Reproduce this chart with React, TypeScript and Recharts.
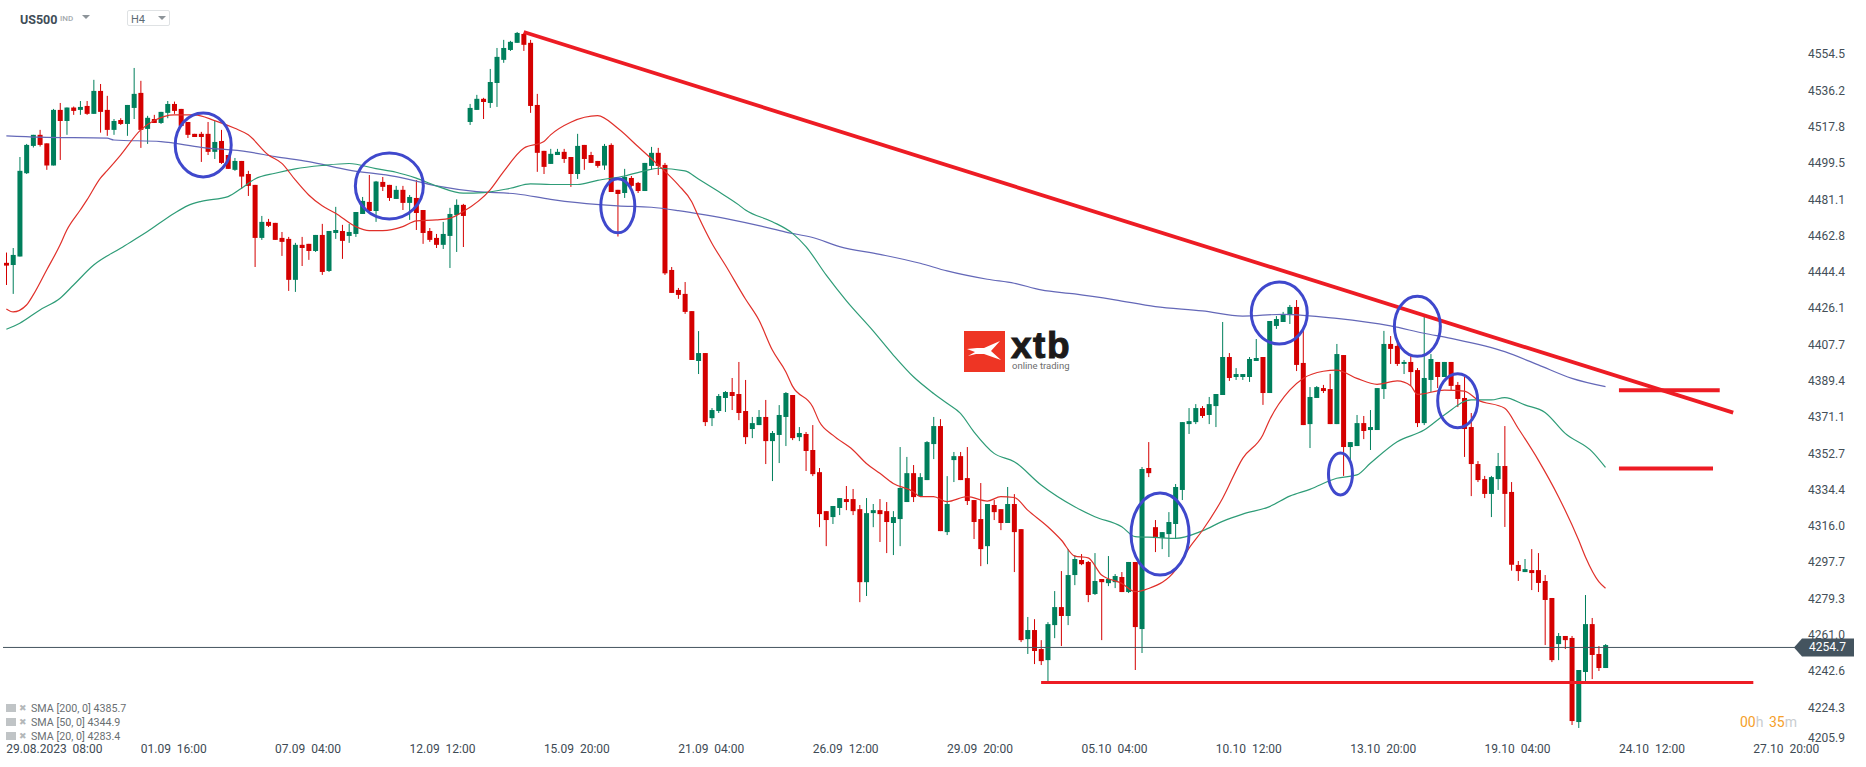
import {
  ComposedChart, Bar, Line, XAxis, YAxis, ReferenceLine, ReferenceDot,
} from 'recharts'

const GREEN = '#007f5c'
const RED = '#d40000'
const LINE_RED = '#ed1c24'
const CIRCLE = '#3f48cc'
const FONT = 'Roboto, sans-serif'

const SLOTS = 267
const CURRENT = 4254.7

const PRICE_TICKS = [
  4554.5, 4536.2, 4517.8, 4499.5, 4481.1, 4462.8, 4444.4, 4426.1, 4407.7, 4389.4,
  4371.1, 4352.7, 4334.4, 4316.0, 4297.7, 4279.3, 4261.0, 4242.6, 4224.3, 4205.9,
]

// one label every 20 candles
const TIME_LABELS = [
  '29.08.2023  08:00', '01.09  16:00', '07.09  04:00', '12.09  12:00', '15.09  20:00',
  '21.09  04:00', '26.09  12:00', '29.09  20:00', '05.10  04:00', '10.10  12:00',
  '13.10  20:00', '19.10  04:00', '24.10  12:00', '27.10  20:00',
]

const OPEN = [
  4449.1,4448.0,4452.3,4494.4,4508.2,4513.8,4509.5,4498.3,4526.4,4520.8,
  4527.6,4526.4,4528.4,4524.4,4536.0,4526.4,4516.3,4521.3,4519.3,4527.4,
  4535.0,4516.8,4521.8,4519.8,4524.9,4529.4,4526.9,4520.3,4514.3,4514.3,
  4514.3,4505.2,4510.7,4503.6,4496.1,4500.6,4494.0,4488.5,4461.7,4469.8,
  4469.3,4461.7,4461.2,4440.5,4458.2,4458.7,4455.1,4463.2,4445.0,4464.2,
  4465.2,4462.7,4463.7,4473.8,4479.9,4475.3,4490.0,4488.5,4481.4,4486.0,
  4479.4,4481.9,4475.8,4465.2,4461.7,4458.2,4462.7,4473.3,4478.4,4520.3,
  4526.4,4532.0,4529.9,4540.0,4551.7,4556.7,4560.3,4564.8,4560.3,4528.9,
  4505.7,4499.1,4503.6,4505.2,4502.6,4494.0,4508.7,4503.6,4500.6,4498.3,
  4508.7,4486.0,4484.4,4492.0,4489.5,4485.4,4498.1,4504.7,4498.6,4445.5,
  4435.4,4433.4,4424.7,4399.5,4403.5,4370.6,4374.2,4380.8,4383.8,4382.8,
  4374.2,4365.1,4367.1,4371.2,4359.0,4362.1,4371.2,4382.3,4361.0,4362.6,
  4354.5,4343.3,4323.6,4320.6,4325.2,4329.7,4329.7,4324.6,4287.7,4322.6,
  4324.1,4323.6,4317.6,4319.6,4328.2,4342.8,4331.2,4339.3,4357.5,4366.6,
  4313.0,4349.4,4351.4,4340.3,4329.2,4319.6,4305.9,4326.7,4324.6,4317.6,
  4327.2,4314.5,4258.9,4263.5,4253.9,4248.3,4266.0,4275.1,4270.6,4291.3,
  4298.9,4297.9,4281.7,4289.3,4287.2,4287.7,4290.3,4282.7,4297.9,4264.0,
  4345.4,4315.5,4310.0,4312.0,4317.1,4334.3,4367.6,4368.6,4375.7,4372.2,
  4376.7,4382.3,4401.5,4391.4,4391.4,4391.4,4399.5,4401.5,4383.3,4417.2,
  4419.2,4422.7,4426.8,4398.5,4367.6,4380.8,4385.8,4385.3,4367.6,4402.5,
  4356.0,4356.5,4368.1,4364.6,4364.6,4385.3,4408.1,4407.1,4398.0,4399.0,
  4394.9,4368.1,4389.9,4399.0,4391.4,4399.0,4387.4,4380.8,4366.1,4347.4,
  4339.8,4332.3,4339.8,4346.4,4333.3,4296.4,4292.8,4293.8,4293.8,4288.3,
  4279.7,4256.4,4260.5,4259.5,4217.0,4242.3,4266.5,4251.4,4244.3,
]

const CLOSE = [
  4447.7,4453.1,4495.6,4508.7,4513.8,4508.7,4498.3,4526.4,4520.8,4527.6,
  4525.9,4527.9,4524.4,4536.0,4525.4,4516.3,4520.8,4519.3,4528.9,4534.5,
  4516.3,4522.4,4519.8,4525.4,4529.4,4525.9,4518.3,4513.8,4512.7,4512.7,
  4505.2,4510.2,4499.6,4496.6,4500.6,4492.7,4488.0,4461.7,4469.8,4467.8,
  4460.7,4459.7,4440.5,4458.2,4456.6,4455.1,4463.2,4444.5,4465.2,4465.7,
  4460.2,4464.7,4474.8,4480.4,4475.3,4490.2,4487.5,4481.9,4486.0,4479.4,
  4482.4,4474.3,4464.2,4460.7,4458.2,4463.7,4473.8,4478.4,4472.8,4527.4,
  4532.0,4530.4,4540.5,4553.2,4557.7,4560.8,4565.3,4559.3,4528.4,4504.7,
  4497.6,4504.2,4505.2,4501.6,4494.0,4508.2,4501.6,4499.6,4498.1,4508.2,
  4484.9,4483.9,4492.5,4488.0,4485.4,4499.6,4504.7,4498.1,4443.8,4433.9,
  4432.9,4424.3,4400.0,4403.5,4368.6,4374.7,4381.8,4383.8,4381.8,4373.2,
  4361.0,4368.1,4371.2,4359.0,4363.1,4372.2,4383.3,4360.5,4363.1,4354.0,
  4342.3,4322.1,4319.1,4326.2,4330.2,4328.2,4323.6,4287.7,4322.6,4324.1,
  4322.1,4318.1,4320.6,4335.3,4342.8,4330.7,4340.8,4358.5,4366.6,4313.5,
  4327.2,4351.4,4339.3,4328.7,4318.1,4304.4,4327.2,4323.1,4317.6,4327.2,
  4313.0,4258.4,4263.5,4252.9,4247.8,4266.5,4275.1,4270.6,4291.3,4299.4,
  4296.8,4281.2,4288.3,4287.7,4289.3,4290.8,4282.7,4297.9,4265.0,4344.9,
  4342.8,4310.0,4313.0,4318.1,4335.8,4368.6,4369.1,4375.7,4371.7,4377.7,
  4382.8,4401.5,4390.9,4392.9,4392.9,4400.5,4401.0,4383.3,4419.7,4420.7,
  4423.2,4426.8,4397.5,4367.1,4381.3,4386.3,4384.3,4367.6,4403.0,4356.0,
  4358.5,4368.1,4364.1,4366.1,4385.8,4408.1,4405.6,4398.0,4399.0,4393.9,
  4368.1,4390.9,4400.5,4391.4,4399.0,4386.9,4380.3,4365.1,4347.4,4339.3,
  4332.3,4340.8,4346.4,4332.3,4296.5,4293.3,4294.3,4292.3,4287.3,4278.7,
  4248.3,4260.5,4258.4,4217.5,4243.3,4266.5,4250.9,4244.3,4255.9,
]

const HIGH = [
  4454.3,4456.6,4502.6,4509.2,4513.8,4516.3,4509.5,4526.9,4529.9,4527.6,
  4528.1,4530.9,4530.9,4541.6,4539.5,4533.5,4521.8,4522.2,4528.9,4547.6,
  4541.1,4523.4,4523.9,4525.4,4530.9,4530.6,4526.9,4520.3,4514.3,4515.3,
  4520.3,4520.8,4516.3,4503.6,4502.1,4500.6,4495.6,4488.5,4472.8,4471.3,
  4469.3,4464.7,4462.2,4459.2,4462.2,4458.7,4463.2,4468.8,4465.2,4477.4,
  4468.3,4468.8,4474.8,4482.4,4493.5,4490.5,4492.5,4488.5,4488.0,4488.0,
  4483.4,4491.0,4475.8,4466.7,4463.7,4469.8,4476.9,4481.2,4478.9,4529.4,
  4534.0,4532.5,4547.1,4557.7,4561.8,4561.3,4565.8,4565.2,4561.8,4534.5,
  4505.7,4506.7,4506.7,4506.7,4502.6,4514.3,4508.7,4505.2,4500.6,4509.2,
  4509.5,4486.0,4496.6,4493.0,4490.0,4499.6,4507.7,4507.2,4499.6,4447.0,
  4436.4,4439.4,4424.7,4414.6,4403.5,4375.7,4382.8,4384.3,4390.9,4399.0,
  4389.9,4371.2,4374.7,4379.8,4364.1,4377.2,4383.8,4382.3,4366.1,4363.6,
  4367.1,4345.4,4323.6,4326.2,4330.2,4336.3,4334.8,4326.7,4330.2,4327.2,
  4329.7,4328.2,4323.6,4356.0,4351.0,4346.9,4342.8,4359.0,4371.2,4370.1,
  4341.3,4353.5,4353.5,4356.0,4329.2,4337.8,4327.2,4329.2,4324.6,4335.8,
  4332.2,4314.5,4270.1,4269.0,4258.4,4267.5,4283.2,4293.3,4304.4,4301.4,
  4301.9,4298.4,4302.4,4289.3,4300.9,4291.8,4292.8,4297.9,4297.9,4345.9,
  4358.5,4319.1,4313.0,4323.1,4337.3,4368.6,4375.7,4377.7,4376.7,4381.3,
  4382.8,4419.2,4403.5,4395.9,4392.9,4401.5,4410.6,4401.5,4419.7,4422.2,
  4424.3,4427.8,4430.3,4415.2,4386.3,4386.8,4387.4,4393.0,4408.1,4402.5,
  4358.5,4372.2,4371.7,4374.7,4385.8,4414.7,4412.1,4410.1,4400.0,4402.0,
  4395.9,4422.2,4403.0,4399.0,4399.0,4399.0,4388.9,4391.4,4373.2,4348.9,
  4341.4,4341.4,4353.0,4366.6,4338.3,4298.4,4299.4,4304.4,4302.4,4291.3,
  4279.7,4262.0,4260.5,4260.5,4243.3,4281.2,4269.6,4255.4,4256.4,
]

const LOW = [
  4437.9,4433.4,4452.3,4494.0,4507.4,4507.9,4496.1,4498.3,4501.1,4513.8,
  4523.9,4523.9,4523.9,4524.4,4514.9,4513.3,4513.8,4518.8,4513.3,4521.8,
  4507.2,4509.2,4519.8,4519.3,4522.2,4524.4,4518.3,4512.2,4512.7,4500.1,
  4503.6,4501.6,4499.1,4496.6,4495.6,4486.5,4482.9,4447.0,4460.7,4467.2,
  4460.7,4452.6,4434.9,4434.4,4447.5,4450.6,4454.6,4443.0,4444.5,4461.2,
  4451.1,4459.2,4462.2,4473.8,4475.3,4469.8,4485.4,4480.4,4481.4,4475.8,
  4470.8,4465.7,4458.7,4459.7,4456.6,4456.1,4446.5,4454.6,4457.1,4518.8,
  4526.4,4521.8,4527.4,4527.9,4550.2,4556.2,4560.3,4556.2,4524.9,4495.1,
  4494.0,4499.1,4503.6,4499.6,4487.5,4491.5,4496.1,4499.6,4497.2,4496.1,
  4484.9,4462.4,4481.9,4487.5,4484.4,4485.4,4496.1,4493.5,4443.0,4433.9,
  4430.9,4423.3,4400.0,4392.9,4366.6,4366.6,4373.2,4373.7,4374.7,4369.6,
  4357.5,4360.5,4367.1,4347.4,4338.8,4347.9,4356.5,4359.5,4359.0,4343.9,
  4341.3,4315.5,4305.9,4317.1,4321.6,4324.1,4321.6,4277.6,4280.7,4315.5,
  4308.0,4302.4,4301.4,4305.9,4328.2,4328.2,4331.2,4339.3,4349.9,4313.5,
  4311.5,4338.3,4339.3,4326.7,4309.5,4295.8,4296.8,4319.1,4314.0,4317.6,
  4292.8,4257.4,4251.4,4246.3,4245.8,4237.7,4259.4,4255.4,4266.0,4286.2,
  4296.3,4277.6,4281.2,4258.4,4285.7,4284.7,4282.7,4282.2,4243.3,4251.9,
  4340.8,4302.9,4304.4,4300.4,4309.5,4329.2,4362.6,4367.6,4370.7,4367.6,
  4366.1,4382.3,4389.4,4389.9,4389.9,4388.9,4399.5,4377.3,4383.3,4415.7,
  4419.2,4418.2,4394.4,4367.1,4355.5,4380.8,4383.3,4367.6,4367.6,4341.4,
  4349.4,4356.5,4360.0,4354.5,4364.6,4380.3,4398.0,4397.0,4392.9,4386.9,
  4366.1,4367.1,4383.8,4385.8,4391.4,4384.8,4376.2,4351.0,4331.2,4338.3,
  4330.2,4320.6,4334.3,4315.6,4293.5,4288.3,4292.8,4283.7,4282.7,4255.9,
  4247.3,4248.3,4253.9,4215.5,4214.0,4237.7,4238.7,4242.8,4244.3,
]

// [candle index, value]
const SMA20: [number, number][] = [
  [0,4425.8],[1,4424.3],[3,4427.8],[4,4432.9],[6,4445.5],[8,4458.2],[9,4465.7],[11,4475.8],[12,4480.9],
  [14,4491.9],[15,4495.7],[17,4503.6],[20,4516.3],[22,4521],[25,4523.9],[28,4523.9],[31,4521],[34,4517.1],
  [36,4513.8],[39,4503.6],[41,4499.4],[43,4491],[45,4483.4],[47,4477.9],[49,4474.2],[52,4467.4],[54,4465.4],
  [56,4465.4],[59,4467.4],[61,4470.3],[64,4470.8],[66,4471.6],[68,4475],[72,4486],[74,4495.2],[77,4507],
  [80,4510.4],[81,4513.8],[84,4520.2],[88,4523.5],[91,4517.1],[94,4507.9],[97,4498.6],[100,4488.5],[102,4480],
  [103,4472.5],[105,4459],[107,4448],[110,4430.8],[112,4420.2],[114,4405],[116,4394.1],[117,4386.8],[120,4376.4],
  [121,4368.8],[123,4362],[126,4354.5],[128,4347.7],[130,4342.7],[132,4337.6],[135,4333.4],[136,4330.9],[138,4330.9],
  [140,4328.4],[143,4330.9],[146,4328.7],[148,4330.9],[150,4330.5],[152,4324.1],[155,4315.7],[157,4309],[159,4300.9],
  [161,4300],[163,4291.3],[166,4287.1],[168,4282.9],[170,4284.5],[174,4293.8],[176,4304.8],[178,4313.8],[181,4330],
  [184,4350.3],[187,4362.1],[188,4369.7],[191,4384.8],[193,4390.7],[196,4394.3],[198,4394.9],[201,4390.7],[204,4387.7],
  [207,4389.4],[209,4387],[210,4382.6],[214,4384.8],[217,4384.3],[219,4379.8],[223,4375.6],[225,4365.5],[228,4349.4],
  [231,4330.9],[234,4309],[235,4300.6],[237,4288],[238,4284.6],
]

const SMA50: [number, number][] = [
  [0,4415.5],[2,4418.6],[5,4425.3],[8,4431.2],[10,4437.9],[13,4448],[17,4456.5],[21,4464.9],[25,4474.2],[27,4478],
  [29,4480.2],[33,4482.6],[35,4486.8],[37,4491.5],[40,4494.4],[43,4496.6],[47,4498.3],[51,4499.3],[55,4496.7],[58,4494.9],
  [61,4491.9],[64,4488],[68,4484.3],[71,4484.6],[75,4486.8],[78,4489],[81,4488.7],[85,4488.7],[88,4490.8],[92,4493],
  [95,4495.6],[97,4496.9],[101,4495.6],[103,4491.5],[106,4485.1],[109,4478.4],[110,4475.8],[114,4469.9],[117,4464],[119,4457.3],
  [122,4443],[125,4430],[129,4414.7],[132,4402.5],[135,4391.5],[138,4383.1],[140,4378.1],[142,4373],[144,4363.7],[147,4352.8],
  [150,4348.6],[154,4336.8],[159,4325.8],[162,4320.8],[166,4315.7],[168,4310.7],[171,4310.3],[174,4309.8],[178,4313.6],[181,4318.4],
  [184,4322.1],[188,4325.9],[191,4331.2],[194,4334.6],[198,4340.2],[201,4341.9],[203,4347.8],[207,4358.7],[211,4364.6],[214,4372.2],
  [218,4379.8],[221,4379.8],[223,4381],[226,4377.3],[229,4373.5],[232,4362.9],[236,4353.7],[238,4345.7],
]

const SMA200: [number, number][] = [
  [0,4513.3],[5,4512.6],[15,4512.1],[16,4511.2],[23,4510.4],[29,4507.5],[36,4505.2],[40,4502.8],[45,4500.3],[51,4496],
  [58,4492.7],[64,4488],[70,4485.1],[76,4483.9],[81,4481.2],[85,4479.5],[91,4477.9],[96,4477.2],[100,4475.5],[104,4473.3],
  [108,4470.8],[112,4467.9],[116,4464.6],[120,4461.9],[124,4457.3],[130,4453.4],[136,4448.9],[140,4445],[146,4440.8],[150,4438.8],
  [154,4435.4],[159,4433.4],[165,4430.4],[171,4427],[178,4424.8],[184,4422.2],[190,4423.1],[198,4421],[206,4417.2],[211,4413.5],
  [215,4410.9],[223,4404.2],[228,4397.5],[233,4390.7],[238,4386.5],
]

const TREND_START = { slot: 77, price: 4565.8 }
const TREND_END = { slot: 257, price: 4373.4 }
const SUPPORT = { from: 154, to: 260, price: 4237 }
const LEVELS = [
  { from: 240, to: 255, price: 4384.7 },
  { from: 240, to: 254, price: 4345.2 },
]

// rings on the chart: where they sit (slot, price), radii and a small nudge
const RINGS = [
  { slot: 29, price: 4508.7, rx: 28, ry: 32, dx: 2 },
  { slot: 57, price: 4488, rx: 34, ry: 33, dx: 0 },
  { slot: 91, price: 4477.9, rx: 17, ry: 27, dx: 0 },
  { slot: 172, price: 4312, rx: 29, ry: 41, dx: -2 },
  { slot: 189, price: 4423.7, rx: 28, ry: 31, dx: 3 },
  { slot: 199, price: 4342.4, rx: 12, ry: 21, dx: -3 },
  { slot: 210, price: 4417, rx: 23, ry: 30, dx: 0 },
  { slot: 216, price: 4379.4, rx: 20, ry: 27, dx: 0 },
]

const LEGEND = ['SMA [200, 0] 4385.7', 'SMA [50, 0] 4344.9', 'SMA [20, 0] 4283.4']

const knots = (list: [number, number][]) => new Map(list.map(([i, v]) => [i, v]))
const sma20 = knots(SMA20)
const sma50 = knots(SMA50)
const sma200 = knots(SMA200)

const rows = Array.from({ length: SLOTS }, (_, i) => ({
  slot: i,
  range: i < OPEN.length ? [LOW[i], HIGH[i]] : undefined,
  open: OPEN[i],
  close: CLOSE[i],
  high: HIGH[i],
  low: LOW[i],
  sma20: sma20.get(i) ?? null,
  sma50: sma50.get(i) ?? null,
  sma200: sma200.get(i) ?? null,
}))

function Candle(props: any) {
  const { x, y, width, height, payload } = props
  if (!payload || payload.open === undefined) return null
  const color = payload.close >= payload.open ? GREEN : RED
  const perPoint = height / (payload.high - payload.low || 1)
  const top = y + (payload.high - Math.max(payload.open, payload.close)) * perPoint
  const bodyHeight = Math.max(Math.abs(payload.open - payload.close) * perPoint, 1.5)
  const mid = x + width / 2
  return (
    <g>
      <line x1={mid} x2={mid} y1={y} y2={y + height} stroke={color} strokeWidth={1} />
      <rect x={mid - 2.5} y={top} width={5} height={bodyHeight} fill={color} />
    </g>
  )
}

function PriceTick({ x, y, payload }: any) {
  // the lowest label is pushed up so it stays above the time axis
  const shift = payload.value === 4205.9 ? -6 : 0
  return (
    <text x={x + 3} y={y + shift + 4} fontFamily={FONT} fontSize={12} fill="#444f58">
      {payload.value.toFixed(1)}
    </text>
  )
}

function TimeTick({ x, y, payload }: any) {
  return (
    <text x={x} y={y + 1} fontFamily={FONT} fontSize={12} fill="#3d4a54" style={{ whiteSpace: 'pre' }}>
      {TIME_LABELS[payload.value / 20]}
    </text>
  )
}

function PriceTag({ viewBox }: any) {
  const right = viewBox.x + viewBox.width
  const y = viewBox.y
  return (
    <g>
      <polygon
        points={`${right - 3},${y} ${right + 5},${y - 9} ${right + 57},${y - 9} ${right + 57},${y + 9} ${right + 5},${y + 9}`}
        fill="#44545f"
      />
      <text x={right + 12} y={y + 4} fontFamily={FONT} fontSize={12} fill="#fff">{CURRENT}</text>
    </g>
  )
}

function Ring({ cx, cy, rx, ry }: any) {
  return <ellipse cx={cx} cy={cy} rx={rx} ry={ry} fill="none" stroke={CIRCLE} strokeWidth={3} />
}

function Arrow({ left, top }: { left: number; top: number }) {
  return (
    <div style={{
      position: 'absolute', left, top, width: 0, height: 0,
      borderLeft: '4px solid transparent', borderRight: '4px solid transparent', borderTop: '4px solid #8d9499',
    }} />
  )
}

function Header() {
  return (
    <>
      <div style={{ position: 'absolute', left: 20, top: 12, fontSize: 12.5, fontWeight: 700, color: '#3f4d57' }}>US500</div>
      <div style={{ position: 'absolute', left: 60, top: 14, fontSize: 8, fontWeight: 500, color: '#a3a9ad' }}>IND</div>
      <Arrow left={82} top={15} />
      <div style={{ position: 'absolute', left: 127, top: 10, width: 41, height: 14, border: '1px solid #dfe2e4', borderRadius: 2 }} />
      <div style={{ position: 'absolute', left: 131, top: 13, fontSize: 11, color: '#5d6b75' }}>H4</div>
      <Arrow left={158} top={16} />
    </>
  )
}

function Logo() {
  return (
    <>
      <svg style={{ position: 'absolute', left: 964, top: 331 }} width={41} height={41} viewBox="0 0 41 41">
        <rect width={41} height={41} fill="#ee3524" />
        <path d="M3 18 L13 17 L20 17 L36 10 L27 20 L37 29 L20 23 L12 23 L4 25 L11 21 Z" fill="#fff" />
      </svg>
      <div style={{
        position: 'absolute', left: 1011, top: 332, height: 27, lineHeight: '27px', fontFamily: 'Liberation Sans, sans-serif',
        fontSize: 37, fontWeight: 700, color: '#1c1a1a', WebkitTextStroke: '1px #1c1a1a', letterSpacing: 1.5,
      }}>
        xtb
      </div>
      <div style={{ position: 'absolute', left: 1012, top: 360, fontSize: 9.5, lineHeight: '12px', color: '#6d6d6d' }}>online trading</div>
    </>
  )
}

function Legend() {
  return (
    <>
      {LEGEND.map((text, i) => (
        <div key={text} style={{ position: 'absolute', left: 6, top: 702 + i * 14.2, height: 12, display: 'flex', alignItems: 'center' }}>
          <span style={{ width: 10, height: 8, background: '#c0c4c6', marginRight: 3 }} />
          <span style={{ width: 9, fontSize: 9, color: '#b4b8ba', marginRight: 3 }}>✖</span>
          <span style={{ fontSize: 10.7, color: '#6a6f73' }}>{text}</span>
        </div>
      ))}
    </>
  )
}

function Countdown() {
  return (
    <div style={{ position: 'absolute', left: 1740, top: 714, fontSize: 14, wordSpacing: 2, color: '#c9cdd0', whiteSpace: 'pre' }}>
      <span style={{ color: '#f5a02a' }}>00</span>h <span style={{ color: '#f5a02a' }}>35</span>m
    </div>
  )
}

export default function App() {
  return (
    <div style={{ position: 'fixed', left: 0, top: 0, width: 1866, height: 767, background: '#fff', fontFamily: FONT, overflow: 'hidden' }}>
      <ComposedChart
        width={1866}
        height={767}
        data={rows}
        margin={{ top: 0, right: 0, bottom: 0, left: 3 }}
        barCategoryGap={0}
      >
        <XAxis
          dataKey="slot"
          height={23}
          interval={19}
          tick={TimeTick}
          axisLine={false}
          tickLine={false}
        />
        <YAxis
          orientation="right"
          width={69}
          type="number"
          domain={[4205.9, 4581.95]}
          ticks={PRICE_TICKS}
          interval={0}
          allowDataOverflow
          tick={PriceTick}
          axisLine={false}
          tickLine={false}
        />

        <Bar dataKey="range" shape={Candle} isAnimationActive={false} />

        <Line type="monotone" dataKey="sma200" stroke="#6468b8" strokeWidth={1.2} dot={false} connectNulls isAnimationActive={false} />
        <Line type="monotone" dataKey="sma50" stroke="#2e9c77" strokeWidth={1.2} dot={false} connectNulls isAnimationActive={false} />
        <Line type="monotone" dataKey="sma20" stroke="#e0302a" strokeWidth={1.2} dot={false} connectNulls isAnimationActive={false} />

        <ReferenceLine y={CURRENT} stroke="#44545f" strokeWidth={1} label={PriceTag} />
        <ReferenceLine
          segment={[{ x: TREND_START.slot, y: TREND_START.price }, { x: TREND_END.slot, y: TREND_END.price }]}
          stroke={LINE_RED}
          strokeWidth={3.8}
        />
        <ReferenceLine
          segment={[{ x: SUPPORT.from, y: SUPPORT.price }, { x: SUPPORT.to, y: SUPPORT.price }]}
          stroke={LINE_RED}
          strokeWidth={3}
        />
        {LEVELS.map(level => (
          <ReferenceLine
            key={level.price}
            segment={[{ x: level.from, y: level.price }, { x: level.to, y: level.price }]}
            stroke={LINE_RED}
            strokeWidth={4}
          />
        ))}
        {RINGS.map(ring => (
          <ReferenceDot
            key={ring.slot}
            x={ring.slot}
            y={ring.price}
            shape={(p: any) => <Ring cx={p.cx + ring.dx} cy={p.cy} rx={ring.rx} ry={ring.ry} />}
          />
        ))}
      </ComposedChart>

      <Header />
      <Logo />
      <Legend />
      <Countdown />
    </div>
  )
}
